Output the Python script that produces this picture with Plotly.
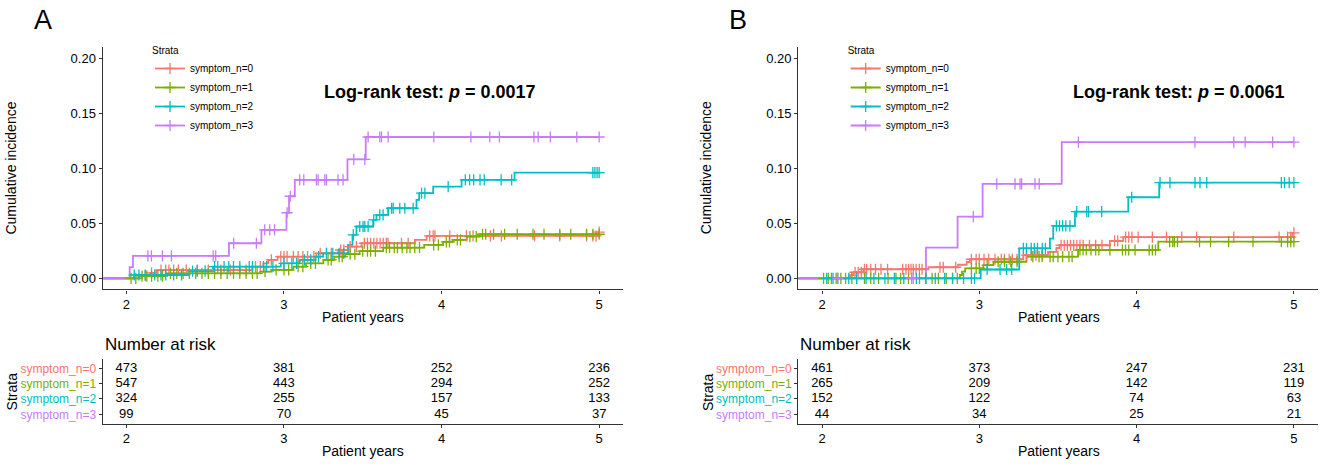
import numpy as np
import plotly.graph_objects as go

STRATA = ["symptom_n=0", "symptom_n=1", "symptom_n=2", "symptom_n=3"]
COLORS = ["#F8766D", "#7CAE00", "#00BFC4", "#C77CFF"]
FONT = "Liberation Sans, Arial, sans-serif"

# ---- panel A: step times, cumulative incidence, censor times ----
a0_time = [0, 2.10, 2.15, 2.19, 2.80, 2.87, 2.90, 2.96, 3.206, 3.344, 3.407, 3.492, 3.831, 3.905, 4.99]
a0_inc = [0, 0.0025, 0.0050, 0.0075, 0.0105, 0.0136, 0.0167, 0.0197, 0.0227, 0.0257, 0.0288, 0.0318, 0.0348, 0.0385, 0.0420]
a0_cens = [2.12, 2.16, 2.22, 2.25, 2.27, 2.30, 2.33, 2.38, 2.45, 2.52, 2.60, 2.66, 2.72, 2.76, 2.82, 2.85, 2.92,
           2.98, 3.00, 3.02, 3.06, 3.09, 3.12, 3.15, 3.19, 3.23, 3.27, 3.30, 3.36, 3.38, 3.42, 3.46, 3.51, 3.53,
           3.55, 3.57, 3.59, 3.61, 3.63, 3.65, 3.66, 3.746, 3.788, 3.925, 3.947, 3.958, 4.052, 4.158, 4.20, 4.31,
           4.38, 4.59, 4.75, 4.92, 4.96, 4.98, 5.0]

a1_time = [0, 2.08, 2.25, 2.85, 2.92, 3.06, 3.14, 3.25, 3.32, 3.39, 3.48, 3.63, 3.89, 4.01, 4.07, 4.16, 4.24]
a1_inc = [0, 0.0020, 0.0045, 0.0060, 0.0076, 0.0106, 0.0136, 0.0167, 0.0197, 0.0220, 0.0247, 0.0278, 0.0303,
          0.0330, 0.0348, 0.0379, 0.0400]
a1_cens = [2.03, 2.06, 2.10, 2.13, 2.16, 2.20, 2.23, 2.28, 2.32, 2.36, 2.40, 2.44, 2.48, 2.52, 2.56, 2.60, 2.64,
           2.68, 2.72, 2.76, 2.80, 2.83, 2.88, 2.95, 3.00, 3.03, 3.09, 3.12, 3.17, 3.20, 3.28, 3.30, 3.35, 3.37,
           3.42, 3.45, 3.50, 3.53, 3.55, 3.58, 3.65, 3.67, 3.70, 3.72, 3.75, 3.78, 3.80, 3.83, 3.86, 3.95, 3.98,
           4.03, 4.05, 4.10, 4.12, 4.18, 4.22, 4.26, 4.28, 4.33, 4.40, 4.48, 4.58, 4.65, 4.75, 4.82, 4.92, 4.96, 5.0]

a2_time = [0, 2.05, 2.40, 2.55, 2.98, 3.10, 3.20, 3.248, 3.407, 3.435, 3.46, 3.566, 3.587, 3.661, 3.841, 3.858,
           3.947, 4.127, 4.463]
a2_inc = [0, 0.0030, 0.0065, 0.0106, 0.0136, 0.0167, 0.0197, 0.0227, 0.0303, 0.0394, 0.0470, 0.0530, 0.0575,
          0.0636, 0.0712, 0.0773, 0.0833, 0.0894, 0.0960]
a2_cens = [2.05, 2.08, 2.12, 2.18, 2.22, 2.25, 2.30, 2.35, 2.42, 2.45, 2.50, 2.56, 2.58, 2.62, 2.65, 2.68, 2.72,
           2.78, 2.80, 2.87, 2.89, 2.93, 3.00, 3.05, 3.08, 3.13, 3.17, 3.22, 3.27, 3.31, 3.35, 3.38, 3.44, 3.481,
           3.502, 3.513, 3.534, 3.57, 3.608, 3.629, 3.683, 3.693, 3.735, 3.767, 3.82, 3.873, 3.894, 4.042, 4.151,
           4.178, 4.204, 4.244, 4.271, 4.378, 4.445, 4.96, 4.973, 4.987, 5.0]

a3_time = [0, 2.021, 2.042, 2.651, 2.857, 3.016, 3.032, 3.069, 3.403, 3.519]
a3_inc = [0, 0.0102, 0.0203, 0.0318, 0.0439, 0.0595, 0.0745, 0.0894, 0.1080, 0.1283]
a3_cens = [2.137, 2.159, 2.229, 2.286, 2.551, 2.567, 2.681, 2.825, 2.878, 2.910, 2.940, 3.020, 3.040, 3.100,
           3.126, 3.206, 3.217, 3.259, 3.270, 3.343, 3.375, 3.443, 3.513, 3.534, 3.608, 3.619, 3.661, 3.951,
           4.186, 4.306, 4.367, 4.586, 4.613, 4.690, 4.858, 5.000]

# ---- panel B ----
b0_time = [0, 2.178, 2.200, 2.263, 2.676, 2.865, 2.920, 2.940, 3.280, 3.437, 3.490, 3.510, 3.830, 3.915, 4.990]
b0_inc = [0, 0.0028, 0.0055, 0.0082, 0.0100, 0.0123, 0.0148, 0.0173, 0.0210, 0.0240, 0.0275, 0.0300, 0.0340,
          0.0373, 0.0413]
b0_cens = [2.21, 2.23, 2.25, 2.27, 2.284, 2.31, 2.34, 2.375, 2.417, 2.513, 2.534, 2.551, 2.566, 2.58, 2.598,
           2.619, 2.636, 2.75, 2.771, 2.85, 2.95, 2.98, 3.0, 3.03, 3.06, 3.10, 3.14, 3.16, 3.19, 3.21, 3.24, 3.30,
           3.33, 3.36, 3.40, 3.52, 3.54, 3.56, 3.58, 3.60, 3.62, 3.64, 3.66, 3.70, 3.74, 3.78, 3.86, 3.88, 3.93,
           3.95, 3.97, 4.01, 4.10, 4.19, 4.287, 4.382, 4.618, 4.906, 4.96, 4.98, 5.0]

b1_time = [0, 2.877, 2.890, 2.910, 3.026, 3.090, 3.300, 3.628, 4.138]
b1_inc = [0, 0.0030, 0.0060, 0.0090, 0.0120, 0.0150, 0.0197, 0.0257, 0.0333]
b1_cens = [2.01, 2.04, 2.06, 2.09, 2.12, 2.15, 2.19, 2.22, 2.27, 2.31, 2.36, 2.42, 2.47, 2.50, 2.55, 2.62, 2.66,
           2.70, 2.74, 2.79, 2.83, 2.86, 2.95, 2.98, 3.00, 3.05, 3.12, 3.16, 3.20, 3.24, 3.34, 3.38, 3.40, 3.45,
           3.47, 3.50, 3.53, 3.57, 3.59, 3.64, 3.66, 3.68, 3.71, 3.74, 3.76, 3.83, 3.91, 3.93, 3.95, 3.99, 4.08,
           4.10, 4.12, 4.21, 4.23, 4.24, 4.26, 4.40, 4.47, 4.585, 4.74, 4.92, 4.96, 4.98, 5.0]

b2_time = [0, 3.009, 3.254, 3.449, 3.470, 3.608, 3.947, 4.144]
b2_inc = [0, 0.0080, 0.0272, 0.0360, 0.0475, 0.0605, 0.0736, 0.0869]
b2_cens = [2.03, 2.07, 2.10, 2.17, 2.22, 2.28, 2.33, 2.40, 2.46, 2.52, 2.60, 2.66, 2.72, 2.78, 2.83, 2.90, 2.95,
           2.97, 3.05, 3.132, 3.174, 3.206, 3.28, 3.30, 3.33, 3.35, 3.37, 3.40, 3.42, 3.49, 3.51, 3.53, 3.55,
           3.576, 3.619, 3.683, 3.694, 3.778, 3.969, 4.149, 4.212, 4.371, 4.403, 4.446, 4.92, 4.94, 4.97, 5.0]

b3_time = [0, 2.661, 2.862, 3.021, 3.524]
b3_inc = [0, 0.0278, 0.0560, 0.0857, 0.1236]
b3_cens = [2.10, 2.57, 2.58, 2.962, 3.111, 3.227, 3.259, 3.269, 3.354, 3.381, 3.630, 4.371, 4.618, 4.690,
           4.865, 5.0]

# ---- number at risk ----
risk_times = [2, 3, 4, 5]
a_risk = [[473, 381, 252, 236], [547, 443, 294, 252], [324, 255, 157, 133], [99, 70, 45, 37]]
b_risk = [[461, 373, 247, 231], [265, 209, 142, 119], [152, 122, 74, 63], [44, 34, 25, 21]]

a_pval = "0.0017"
b_pval = "0.0061"

END_TIME = 5.0
W, H = 1325, 467


def step_value(times, inc, t):
    idx = np.searchsorted(np.array(times), np.array(t), side="right") - 1
    return np.array(inc)[idx]


fig = go.Figure()

panels = [
    dict(curves=[(a0_time, a0_inc, a0_cens), (a1_time, a1_inc, a1_cens),
                 (a2_time, a2_inc, a2_cens), (a3_time, a3_inc, a3_cens)],
         risk=a_risk, xa="x", ya="y", xr="x2", yr="y2", legend="legend"),
    dict(curves=[(b0_time, b0_inc, b0_cens), (b1_time, b1_inc, b1_cens),
                 (b2_time, b2_inc, b2_cens), (b3_time, b3_inc, b3_cens)],
         risk=b_risk, xa="x3", ya="y3", xr="x4", yr="y4", legend="legend2"),
]

for p in panels:
    # step lines first
    for (t, inc, cens), color in zip(p["curves"], COLORS):
        fig.add_trace(go.Scatter(x=list(t) + [END_TIME], y=list(inc) + [inc[-1]], mode="lines",
                                 line=dict(color=color, width=1.8, shape="hv"),
                                 xaxis=p["xa"], yaxis=p["ya"], showlegend=False, hoverinfo="skip"))
    # censor marks on top
    for (t, inc, cens), color in zip(p["curves"], COLORS):
        fig.add_trace(go.Scatter(x=cens, y=step_value(t, inc, cens), mode="markers",
                                 marker=dict(symbol="cross-thin", size=8, color=color,
                                             line=dict(color=color, width=1.3)),
                                 xaxis=p["xa"], yaxis=p["ya"], showlegend=False))
    # legend entries
    for name, color in zip(STRATA, COLORS):
        fig.add_trace(go.Scatter(x=[None], y=[None], mode="lines+markers", name=name,
                                 line=dict(color=color, width=1.8),
                                 marker=dict(symbol="cross-thin", size=8, color=color,
                                             line=dict(color=color, width=1.3)),
                                 xaxis=p["xa"], yaxis=p["ya"], legend=p["legend"]))
    # risk table
    for name, counts in zip(STRATA, p["risk"]):
        fig.add_trace(go.Scatter(x=risk_times, y=[name] * len(risk_times), mode="text",
                                 text=[str(c) for c in counts],
                                 textfont=dict(size=13, color="black", family=FONT),
                                 xaxis=p["xr"], yaxis=p["yr"], showlegend=False, cliponaxis=False))

axis_style = dict(showgrid=False, zeroline=False, showline=True, linecolor="#333333", linewidth=1.4,
                  ticks="outside", ticklen=3, tickcolor="#333333", tickwidth=1,
                  tickfont=dict(size=13, color="black", family=FONT))

xrange = [1.85, 5.15]
main_y = [1 - 289.3 / H, 1 - 47 / H]
risk_y = [1 - 423.5 / H, 1 - 359.1 / H]
a_dom = [102.7 / W, 622.8 / W]
b_dom = [798.4 / W, 1317.5 / W]

strata_ticks = ['<span style="color:%s">%s</span>' % (c, s) for s, c in zip(STRATA, COLORS)]


def main_axes(dom, xa, ya):
    return {
        xa: dict(axis_style, domain=dom, range=xrange, tickvals=risk_times, anchor=ya.replace("axis", "")),
        ya: dict(axis_style, domain=main_y, range=[-0.01, 0.21], tickvals=[0, 0.05, 0.10, 0.15, 0.20],
                 tickformat=".2f", anchor=xa.replace("axis", "")),
    }


def risk_axes(dom, xa, ya):
    return {
        xa: dict(axis_style, domain=dom, range=xrange, tickvals=risk_times, anchor=ya.replace("axis", "")),
        ya: dict(axis_style, domain=risk_y, type="category", categoryorder="array",
                 categoryarray=STRATA[::-1], range=[-0.6, 3.6], tickvals=STRATA, ticktext=strata_ticks,
                 tickfont=dict(size=12, family=FONT), anchor=xa.replace("axis", "")),
    }


layout = {}
layout.update(main_axes(a_dom, "xaxis", "yaxis"))
layout.update(risk_axes(a_dom, "xaxis2", "yaxis2"))
layout.update(main_axes(b_dom, "xaxis3", "yaxis3"))
layout.update(risk_axes(b_dom, "xaxis4", "yaxis4"))

legend_style = dict(title=dict(text="Strata", font=dict(size=10, family=FONT)), font=dict(size=10, family=FONT),
                    xanchor="left", yanchor="top", y=1 - 41 / H, bgcolor="rgba(0,0,0,0)", itemwidth=30)

fig.update_layout(
    width=W, height=H, margin=dict(l=0, r=0, t=0, b=0),
    plot_bgcolor="white", paper_bgcolor="white",
    font=dict(family=FONT, color="black"),
    legend=dict(legend_style, x=150 / W),
    legend2=dict(legend_style, x=(150 + 695.7) / W),
    **layout,
)

annotations = []
for off, lab, pval, xa, ya, px in [(0, "A", a_pval, "x", "y", 3.924), (695.7, "B", b_pval, "x3", "y3", 4.27)]:
    annotations += [
        dict(text=lab, x=(42.7 + off) / W, y=1 - 20 / H, font=dict(size=27)),
        dict(text="Cumulative incidence", textangle=-90, x=(10.6 + off) / W, y=1 - 168 / H, font=dict(size=14)),
        dict(text="Patient years", x=(362.8 + off) / W, y=1 - 316.7 / H, font=dict(size=14)),
        dict(text="Number at risk", x=(102.7 + off) / W, y=1 - 344 / H, xanchor="left", font=dict(size=17)),
        dict(text="Strata", textangle=-90, x=(11.7 + off) / W, y=1 - 391.7 / H, font=dict(size=14)),
        dict(text="Patient years", x=(362.8 + off) / W, y=1 - 450.7 / H, font=dict(size=14)),
        dict(text="<b>Log-rank test: <i>p</i> = %s</b>" % pval, x=px, y=0.1687, xref=xa, yref=ya,
             font=dict(size=18)),
    ]
for a in annotations:
    a.setdefault("xref", "paper")
    a.setdefault("yref", "paper")
    a.setdefault("xanchor", "center")
    a.setdefault("yanchor", "middle")
    a["showarrow"] = False
    a["font"] = dict(a["font"], family=FONT, color="black")
fig.update_layout(annotations=annotations)

# page body has a default 8px margin; remove it so the figure sits at the window origin
fig.write_html("out.html", config={"displayModeBar": False},
               post_script="document.body.style.margin='0px';")
